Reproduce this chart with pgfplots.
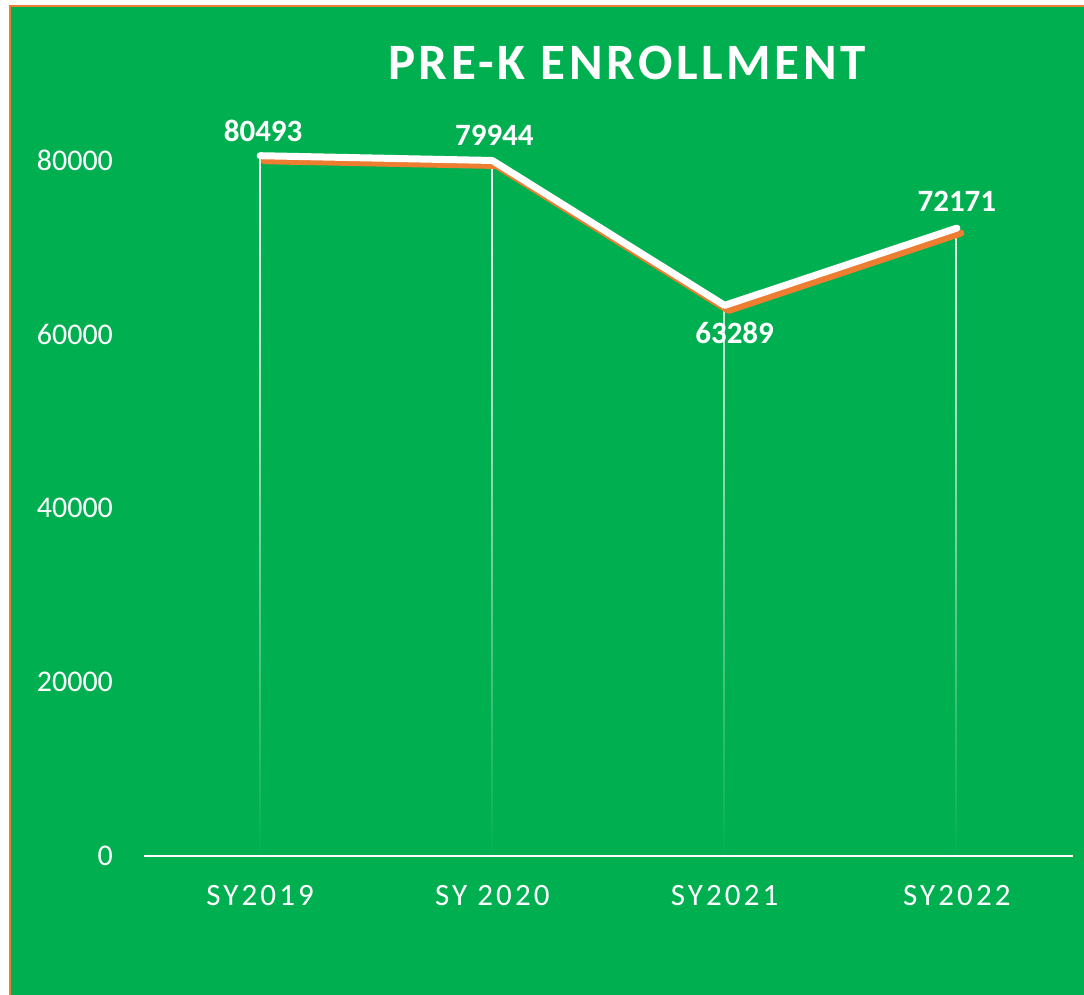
\documentclass[border=0pt]{standalone}
\usepackage{fontspec}
\setmainfont{Carlito}
\newfontfamily\spacedfont[LetterSpace=10]{Carlito}
\newfontfamily\titlefont[LetterSpace=7]{Carlito}
\usepackage{pgfplots}
\usepackage{pgfplotstable}
\pgfplotsset{compat=1.18}
\usetikzlibrary{fadings}
\definecolor{bggreen}{HTML}{00B050}
\definecolor{xlorange}{HTML}{ED7D31}
\tikzfading[name=dropfade, top color=transparent!0, middle color=transparent!15, bottom color=transparent!100]

% enrollment per school year, label offsets in pt
\pgfplotstableread{
x y dx dy
0 80493 1.5 12.5
1 79944 1 12.5
2 63289 5 -14
3 72171 0 13.5
}\enroll

\begin{document}
\begin{tikzpicture}
\useasboundingbox (0,0) rectangle (542pt,497.5pt);
\fill[white] (0,0) rectangle (542pt,497.5pt);
\draw[xlorange, line width=1pt, fill=bggreen] (5pt,-10pt) rectangle (560pt,494.5pt);
\node[text=white, font=\titlefont\bfseries\fontsize{25.5}{30}\selectfont] at (313.5pt,466pt) {PRE-K ENROLLMENT};
\begin{axis}[
  at={(72pt,69.5pt)}, anchor=south west,
  scale only axis, width=464.5pt, height=391.5pt,
  xmin=-0.5, xmax=3.5, ymin=0, ymax=90000,
  axis lines*=left,
  x axis line style={white, line width=1pt},
  y axis line style={draw=none},
  major tick length=0pt,
  xtick={0,1,2,3}, xticklabels={SY2019, SY 2020, SY2021, SY2022},
  ytick={0,20000,40000,60000,80000},
  scaled y ticks=false,
  /pgf/number format/1000 sep={},
  /pgf/number format/assume math mode=true,
  xticklabel style={font=\spacedfont\fontsize{15.5}{18}\selectfont, text=white, yshift=-11pt},
  yticklabel style={font=\fontsize{15}{18}\selectfont, text=white, xshift=-12pt},
  clip=false,
]
\addplot[ycomb, white, line width=1pt, path fading=dropfade, mark=none] table[x=x, y=y] {\enroll};
\addplot[xlorange, line width=3.5pt, line cap=round, line join=round, xshift=2pt, yshift=-2.5pt, mark=none] table[x=x, y=y] {\enroll};
\addplot[white, line width=3.5pt, line cap=round, line join=round, mark=none,
  nodes near coords,
  visualization depends on={\thisrow{dx} \as \dx},
  visualization depends on={\thisrow{dy} \as \dy},
  every node near coord/.append style={anchor=center, xshift=\dx pt, yshift=\dy pt,
    font=\bfseries\fontsize{15.5}{18}\selectfont, text=white},
] table[x=x, y=y] {\enroll};
\end{axis}
\end{tikzpicture}
\end{document}
